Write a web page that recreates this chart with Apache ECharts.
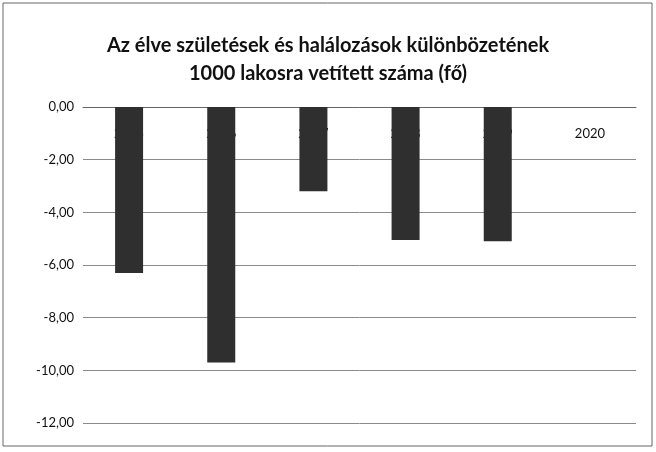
<!DOCTYPE html>
<html>
<head>
<meta charset="utf-8">
<script src="https://cdn.jsdelivr.net/npm/echarts@6/dist/echarts.min.js"></script>
<style>
  html, body { margin: 0; padding: 0; background: #fff; }
  #main { width: 656px; height: 452px; }
</style>
</head>
<body>
<div id="main"></div>
<script>
// évek és a különbözet (fő / 1000 lakos)
const years = ['2015', '2016', '2017', '2018', '2019', '2020'];
const values = [-6.3, -9.7, -3.2, -5.05, -5.1, null];
const yTicks = [0, -2, -4, -6, -8, -10, -12];

const myChart = echarts.init(document.getElementById('main'));
const font = 'Lato, "Open Sans", sans-serif';

const option = {
  backgroundColor: '#fff',
  title: {
    text: 'Az élve születések és halálozások különbözetének\n1000 lakosra vetített száma (fő)',
    left: 'center',
    top: 27,
    textStyle: {
      fontFamily: font,
      fontSize: 20,
      fontWeight: 'bold',
      color: '#111',
      lineHeight: 28
    }
  },
  graphic: [{
    type: 'rect',
    shape: { x: 3, y: 3, width: 649, height: 443 },
    style: { fill: 'none', stroke: '#666', lineWidth: 1 }
  }],
  grid: { left: 83, right: 20, top: 107, bottom: 29 },
  xAxis: {
    type: 'category',
    data: years,
    position: 'top',
    axisLine: { show: true, lineStyle: { color: '#666' } },
    axisTick: { show: false },
    axisLabel: {
      inside: true,
      margin: 20,
      color: '#111',
      fontFamily: font,
      fontSize: 13
    }
  },
  yAxis: {
    type: 'value',
    min: yTicks[yTicks.length - 1],
    max: yTicks[0],
    interval: 2,
    axisLine: { show: false },
    axisTick: { show: false },
    axisLabel: {
      margin: 9,
      color: '#111',
      fontFamily: font,
      fontSize: 13,
      formatter: v => v.toFixed(2).replace('.', ',')
    },
    splitLine: { lineStyle: { color: '#8a8a8a', width: 1 } }
  },
  series: [{
    type: 'bar',
    data: values,
    barWidth: 28,
    itemStyle: { color: '#2f2f2f' }
  }]
};

myChart.setOption(option);
</script>
</body>
</html>
